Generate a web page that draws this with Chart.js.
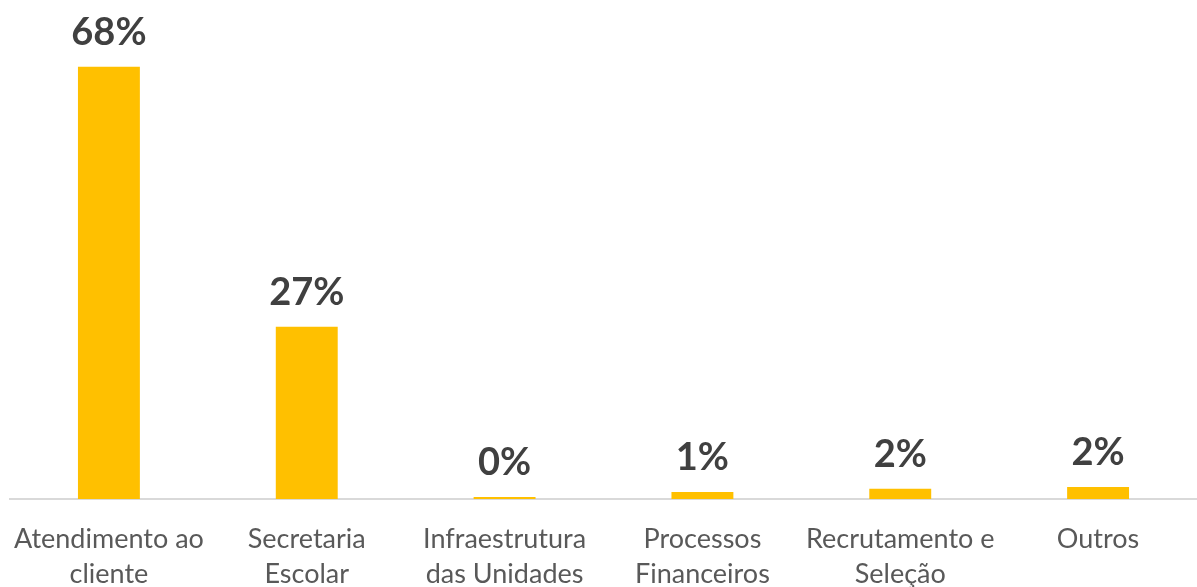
<!DOCTYPE html>
<html>
<head>
<meta charset="utf-8">
<script src="https://cdn.jsdelivr.net/npm/chart.js@4"></script>
<style>
  html, body { margin: 0; padding: 0; background: #fff; }
  #wrap { width: 1197px; height: 587px; }
</style>
</head>
<body>
<div id="wrap"><canvas id="chart" width="1197" height="587"></canvas></div>
<script>
var categories = [
    ['Atendimento ao', 'cliente'],
    ['Secretaria', 'Escolar'],
    ['Infraestrutura', 'das Unidades'],
    ['Processos', 'Financeiros'],
    ['Recrutamento e', 'Seleção'],
    ['Outros']
];
var values = [68.0, 27.1, 0.3, 1.1, 1.6, 1.9];
var yMax = 70;

var FONT = 'Lato, "Open Sans", sans-serif';

// draws the percentage above each bar
var barLabels = {
    id: 'barLabels',
    afterDatasetsDraw: function(chart) {
        var ctx = chart.ctx;
        var meta = chart.getDatasetMeta(0);
        ctx.save();
        ctx.font = 'bold 38px ' + FONT;
        ctx.fillStyle = '#404040';
        ctx.textAlign = 'center';
        ctx.textBaseline = 'alphabetic';
        meta.data.forEach(function(bar, i) {
            ctx.fillText(Math.round(values[i]) + '%', bar.x, bar.y - 22);
        });
        ctx.restore();
    }
};

new Chart(document.getElementById('chart').getContext('2d'), {
    type: 'bar',
    data: {
        labels: categories,
        datasets: [{
            data: values,
            backgroundColor: '#FFC000',
            borderWidth: 0,
            categoryPercentage: 1,
            barPercentage: 0.313
        }]
    },
    options: {
        responsive: false,
        animation: false,
        layout: { padding: { left: 10, right: 0, top: 54, bottom: 0 } },
        plugins: {
            legend: { display: false },
            tooltip: { enabled: false }
        },
        scales: {
            x: {
                grid: { display: false, drawTicks: false },
                border: { display: true, color: '#D9D9D9', width: 2 },
                ticks: {
                    color: '#595959',
                    font: { family: FONT, size: 27, lineHeight: 1.3 },
                    padding: 23,
                    maxRotation: 0,
                    autoSkip: false
                },
                afterFit: function(scale) {
                    scale.height = 88;
                    scale.paddingLeft = 0;
                    scale.paddingRight = 0;
                }
            },
            y: {
                display: false,
                min: 0,
                max: yMax
            }
        }
    },
    plugins: [barLabels]
});
</script>
</body>
</html>
